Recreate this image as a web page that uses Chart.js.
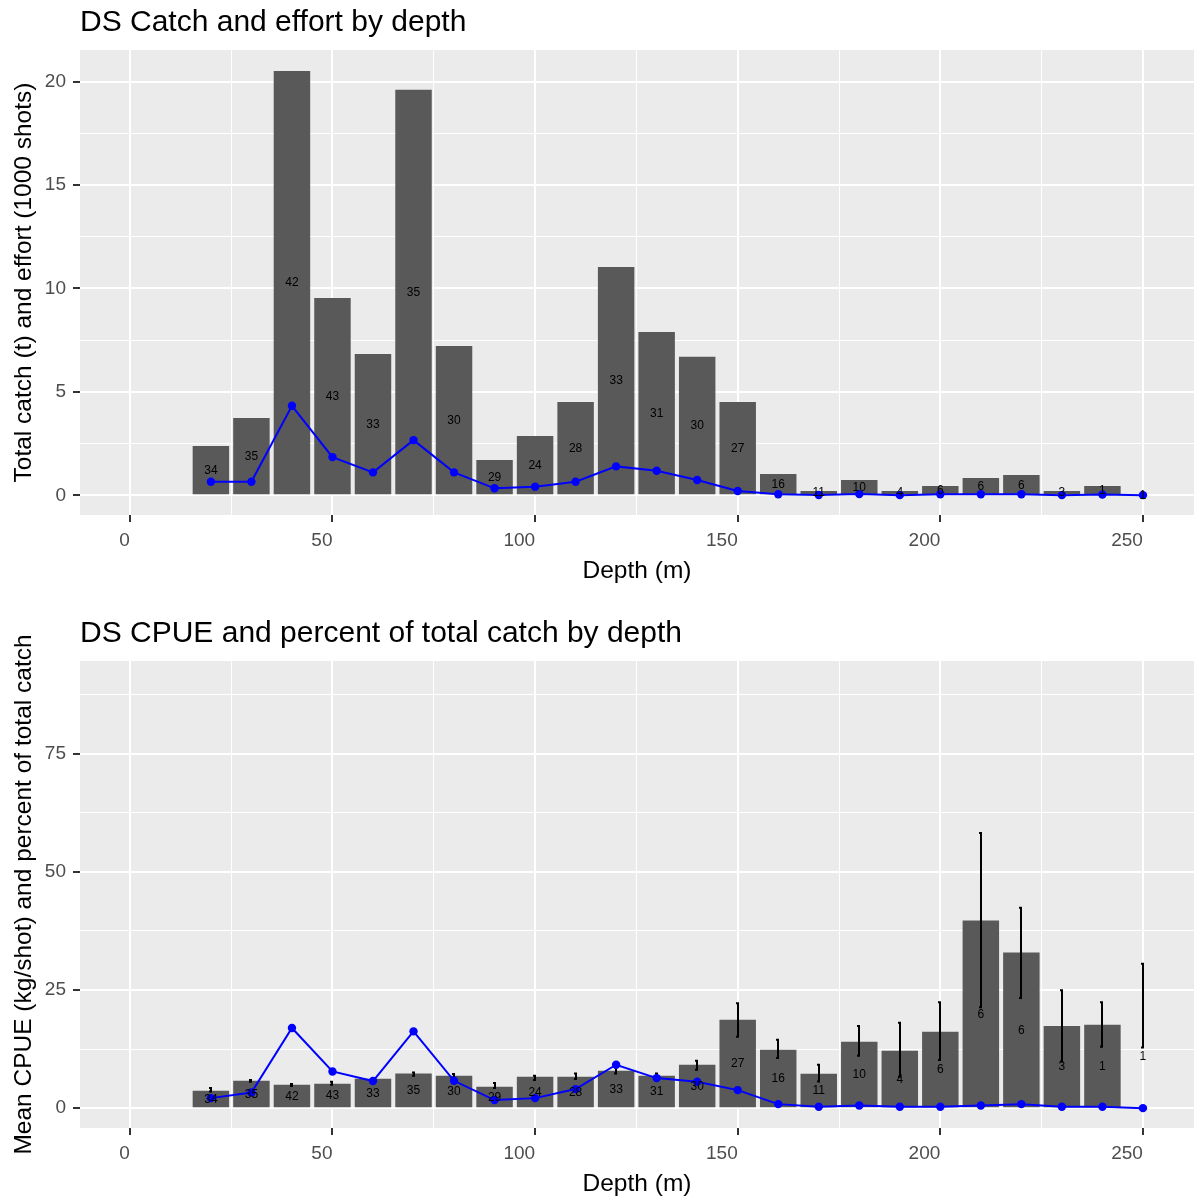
<!DOCTYPE html>
<html>
<head>
<meta charset="utf-8">
<title>DS catch, effort and CPUE by depth</title>
<script src="https://cdn.jsdelivr.net/npm/chart.js@4.4.1/dist/chart.umd.min.js"></script>
<style>
  body { margin: 0; background: #fff; }
  canvas { display: block; }
</style>
</head>
<body>
<canvas id="catchChart" width="1194" height="611"></canvas>
<canvas id="cpueChart" width="1194" height="590"></canvas>
<script>
// depth bins (m)
const depths = [20, 30, 40, 50, 60, 70, 80, 90, 100, 110, 120, 130, 140, 150, 160, 170, 180, 190, 200, 210, 220, 230, 240, 250];
// vessels fishing in each bin (printed on the bars)
const vessels = [34, 35, 42, 43, 33, 35, 30, 29, 24, 28, 33, 31, 30, 27, 16, 11, 10, 4, 6, 6, 6, 3, 1, 1];
// total catch (t)
const catchT = [2.38, 3.74, 20.52, 9.54, 6.83, 19.61, 7.22, 1.71, 2.87, 4.51, 11.04, 7.9, 6.7, 4.51, 1.03, 0.21, 0.74, 0.21, 0.45, 0.84, 0.98, 0.21, 0.45, 0];
// effort (1000 shots)
const effort = [0.66, 0.66, 4.33, 1.85, 1.11, 2.67, 1.11, 0.34, 0.42, 0.66, 1.4, 1.19, 0.74, 0.21, 0.05, 0.02, 0.06, 0.01, 0.05, 0.05, 0.05, 0.01, 0.04, 0.01];
// mean CPUE (kg/shot) with interval; no bar at 250 m
const cpue = [3.67, 5.79, 4.94, 5.15, 6.21, 7.34, 6.85, 4.52, 6.64, 6.64, 7.91, 6.85, 9.18, 18.72, 12.36, 7.27, 14.05, 12.15, 16.18, 39.72, 32.93, 17.39, 17.66, null];
const cpueLo = [3.52, 5.58, 4.7, 4.94, 6.0, 6.85, 6.49, 4.24, 5.94, 6.15, 7.34, 6.64, 8.12, 15.12, 10.6, 5.64, 11.09, 6.64, 10.18, 21.33, 23.32, 9.88, 13.0, 12.85];
const cpueHi = [4.24, 5.94, 5.1, 5.58, 6.4, 7.55, 7.21, 5.3, 6.85, 7.34, 8.61, 7.34, 10.03, 22.18, 14.48, 9.18, 17.39, 18.09, 22.39, 58.23, 42.41, 24.94, 22.39, 30.53];
// percent of total catch
const pctCatch = [2.12, 3.31, 16.96, 7.76, 5.73, 16.24, 5.79, 1.7, 2.12, 4.03, 9.18, 6.36, 5.58, 3.82, 0.85, 0.28, 0.55, 0.28, 0.28, 0.55, 0.85, 0.28, 0.28, 0];

// major + minor breaks
const depthTicks = [0, 25, 50, 75, 100, 125, 150, 175, 200, 225, 250];
const catchTicks = [0, 2.5, 5, 7.5, 10, 12.5, 15, 17.5, 20];
const cpueTicks = [0, 12.5, 25, 37.5, 50, 62.5, 75, 87.5];

const FONT = '"Liberation Sans", Arial, sans-serif';
Chart.defaults.font.family = FONT;

const panelBackground = {
    id: 'panelBackground',
    beforeDraw(chart) {
        const {ctx, chartArea: a} = chart;
        ctx.save();
        ctx.fillStyle = '#EBEBEB';
        ctx.fillRect(a.left, a.top, a.width, a.height);
        ctx.restore();
    }
};

// vessel counts, centred half way up the bar
function countLabels(heights) {
    return {
        id: 'countLabels',
        afterDatasetsDraw(chart) {
            const {ctx, scales: {x, y}} = chart;
            ctx.save();
            ctx.font = '12px ' + FONT;
            ctx.fillStyle = '#000';
            ctx.textAlign = 'center';
            ctx.textBaseline = 'middle';
            depths.forEach((d, i) => {
                ctx.fillText(String(vessels[i]), x.getPixelForValue(d), y.getPixelForValue(heights[i] / 2));
            });
            ctx.restore();
        }
    };
}

const errorBars = {
    id: 'errorBars',
    afterDatasetDraw(chart, args) {
        if (args.meta.type !== 'bar') return;
        const {ctx, scales: {x, y}} = chart;
        ctx.save();
        ctx.strokeStyle = '#000';
        ctx.lineWidth = 2;
        ctx.beginPath();
        depths.forEach((d, i) => {
            const px = Math.round(x.getPixelForValue(d));
            const y1 = y.getPixelForValue(cpueLo[i]);
            const y2 = y.getPixelForValue(cpueHi[i]);
            ctx.moveTo(px, y1);
            ctx.lineTo(px, y2);
            ctx.moveTo(px - 2, y1);
            ctx.lineTo(px + 1, y1);
            ctx.moveTo(px - 2, y2);
            ctx.lineTo(px + 1, y2);
        });
        ctx.stroke();
        ctx.restore();
    }
};

function gridOpts(step) {
    const major = c => c.tick && Math.abs(c.tick.value % step) < 1e-9;
    return {
        color: '#FFFFFF',
        lineWidth: c => major(c) ? 2 : 1,
        tickColor: c => major(c) ? '#333333' : 'rgba(0,0,0,0)',
        tickLength: 7,
        tickWidth: 2,
        offset: false
    };
}

function makeScales(cfg) {
    return {
        x: {
            type: 'linear',
            min: -12.3,
            max: 262.6,
            offset: false,
            afterBuildTicks: s => { s.ticks = depthTicks.map(v => ({value: v})); },
            afterFit: s => { s.height = cfg.xHeight; s.paddingLeft = 0; s.paddingRight = 0; },
            grid: gridOpts(50),
            border: {display: false},
            ticks: {
                autoSkip: false,
                maxRotation: 0,
                align: 'end',
                padding: 7,
                color: '#4D4D4D',
                font: {size: 19},
                callback: v => v % 50 === 0 ? String(v) : ''
            },
            title: {
                display: true,
                text: 'Depth (m)',
                color: '#000',
                font: {size: 24.5},
                padding: {top: 0, bottom: cfg.xTitlePad}
            }
        },
        y: {
            min: cfg.yMin,
            max: cfg.yMax,
            afterBuildTicks: s => { s.ticks = cfg.yTicks.map(v => ({value: v})); },
            afterFit: s => { s.width = 80; },
            grid: gridOpts(cfg.yStep),
            border: {display: false},
            ticks: {
                padding: 7,
                color: '#4D4D4D',
                font: {size: 19},
                callback: v => v % cfg.yStep === 0 ? String(v) : ''
            },
            title: {
                display: true,
                text: cfg.yTitle,
                color: '#000',
                font: {size: 24.5},
                padding: {top: 10, bottom: 0}
            }
        }
    };
}

function titleOpts(text) {
    return {
        display: true,
        text: text,
        align: 'start',
        fullSize: false,
        color: '#000',
        font: {size: 30, weight: 'normal'},
        padding: {top: 5, bottom: 9}
    };
}

const xy = (vals) => depths.map((d, i) => ({x: d, y: vals[i]}));

const lineStyle = {
    type: 'line',
    borderColor: '#0000FF',
    backgroundColor: '#0000FF',
    borderWidth: 2,
    pointRadius: 4.2,
    pointBorderWidth: 0,
    pointBackgroundColor: '#0000FF',
    tension: 0,
    order: 0
};

const barStyle = {
    type: 'bar',
    backgroundColor: '#595959',
    borderWidth: 0,
    categoryPercentage: 1,
    barPercentage: 0.9,
    order: 1
};

new Chart(document.getElementById('catchChart'), {
    type: 'bar',
    data: {
        datasets: [
            Object.assign({label: 'Effort (1000 shots)', data: xy(effort)}, lineStyle),
            Object.assign({label: 'Total catch (t)', data: xy(catchT)}, barStyle)
        ]
    },
    options: {
        responsive: false,
        animation: false,
        layout: {padding: 0, autoPadding: false},
        scales: makeScales({
            xHeight: 96, xTitlePad: 25,
            yMin: -0.95, yMax: 21.53, yTicks: catchTicks, yStep: 5,
            yTitle: 'Total catch (t) and effort (1000 shots)'
        }),
        plugins: {
            legend: {display: false},
            tooltip: {enabled: false},
            title: titleOpts('DS Catch and effort by depth')
        }
    },
    plugins: [panelBackground, countLabels(catchT)]
});

// label height for the 250 m bin falls back to the interval midpoint
const cpueLabelHeight = cpue.map((v, i) => v !== null ? v : (cpueLo[i] + cpueHi[i]) / 2);

new Chart(document.getElementById('cpueChart'), {
    type: 'bar',
    data: {
        datasets: [
            Object.assign({label: 'Percent of total catch', data: xy(pctCatch)}, lineStyle),
            Object.assign({label: 'Mean CPUE (kg/shot)', data: xy(cpue)}, barStyle)
        ]
    },
    options: {
        responsive: false,
        animation: false,
        layout: {padding: 0, autoPadding: false},
        scales: makeScales({
            xHeight: 73, xTitlePad: 2,
            yMin: -4.2, yMax: 94.6, yTicks: cpueTicks, yStep: 25,
            yTitle: 'Mean CPUE (kg/shot) and percent of total catch'
        }),
        plugins: {
            legend: {display: false},
            tooltip: {enabled: false},
            title: titleOpts('DS CPUE and percent of total catch by depth')
        }
    },
    plugins: [panelBackground, errorBars, countLabels(cpueLabelHeight)]
});
</script>
</body>
</html>
